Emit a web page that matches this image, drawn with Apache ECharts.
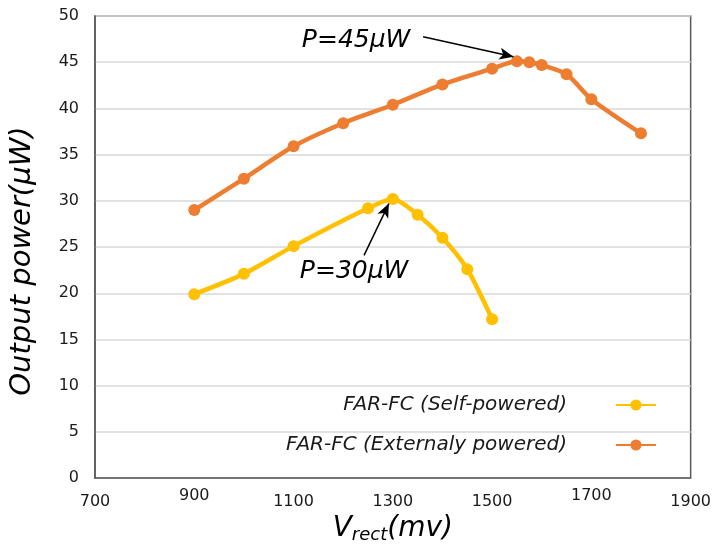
<!DOCTYPE html>
<html><head><meta charset="utf-8">
<script src="https://cdn.jsdelivr.net/npm/echarts@6/dist/echarts.min.js"></script>
<style>html,body{margin:0;padding:0;background:#fff}#c{width:714px;height:549px}</style>
</head><body><div id="c"></div>
<script>
const selfX = [900, 1000, 1100, 1250, 1300, 1350, 1400, 1450, 1500];
const selfY = [19.9, 22.1, 25.1, 29.2, 30.2, 28.5, 26.0, 22.6, 17.2];
const extX = [900, 1000, 1100, 1200, 1300, 1400, 1500, 1550, 1575, 1600, 1650, 1700, 1800];
const extY = [29.0, 32.4, 35.9, 38.4, 40.4, 42.6, 44.3, 45.1, 45.0, 44.7, 43.7, 41.0, 37.3];
const seriesNames = ['FAR-FC (Self-powered)', 'FAR-FC (Externaly powered)'];
const annotations = [
  {text: 'P=45μW', at: [1226, 47.4], from: [1361, 47.75], to: [1543, 45.6]},
  {text: 'P=30μW', at: [1222, 22.4], from: [1242, 24.1], to: [1292, 29.7]}
];
const font = 'DejaVu Sans';
const pair = (xs, ys) => xs.map((x, i) => [x, ys[i]]);

const chart = echarts.init(document.getElementById('c'));
chart.setOption({
  animation: false,
  grid: {left: 95, right: 14, top: 16, bottom: 66, show: true, borderColor: '#595959', borderWidth: 1.5},
  legend: {
    orient: 'vertical', right: 52, top: 390, align: 'right', itemGap: 20,
    itemWidth: 40, itemHeight: 14,
    textStyle: {fontFamily: font, fontStyle: 'italic', fontSize: 20, color: '#1a1a1a', padding: [0, 44, 0, 0]},
    data: seriesNames
  },
  xAxis: {
    type: 'value', min: 700, max: 1900, interval: 200,
    axisLine: {show: true, lineStyle: {color: '#595959', width: 1.5}},
    axisTick: {show: false}, splitLine: {show: false},
    axisLabel: {
      margin: 10, fontFamily: font, fontSize: 16, color: '#1a1a1a',
      formatter: v => (v === 900 || v === 1700) ? '{hi|' + v + '}' : '{lo|' + v + '}',
      rich: {hi: {fontFamily: font, fontSize: 16, color: '#1a1a1a', padding: [0, 0, 6, 0]},
             lo: {fontFamily: font, fontSize: 16, color: '#1a1a1a', padding: [6, 0, 0, 0]}}
    },
    name: '{v|V}{s|rect}{v|(mv)}', nameLocation: 'middle', nameGap: 32,
    nameTextStyle: {rich: {
      v: {fontFamily: font, fontStyle: 'italic', fontSize: 28, color: '#000'},
      s: {fontFamily: font, fontStyle: 'italic', fontSize: 18, color: '#000', verticalAlign: 'bottom', padding: [12, 0, 0, 0]}
    }}
  },
  yAxis: {
    type: 'value', min: 0, max: 50, interval: 5,
    axisLine: {show: true, lineStyle: {color: '#595959', width: 1.5}},
    axisTick: {show: false},
    splitLine: {lineStyle: {color: '#d9d9d9', width: 1.5}},
    axisLabel: {margin: 16, fontFamily: font, fontSize: 16, color: '#1a1a1a'},
    name: 'Output power(μW)', nameLocation: 'middle', nameGap: 58,
    nameTextStyle: {fontFamily: font, fontStyle: 'italic', fontSize: 29, color: '#000', padding: [0, 28, 0, 0]}
  },
  series: [
    {
      name: seriesNames[0], type: 'line', data: pair(selfX, selfY), smooth: 0.25,
      symbol: 'circle', symbolSize: 12, color: '#FFC000', lineStyle: {width: 4.5, color: '#FFC000'},
      markLine: {
        silent: true, symbol: ['none', 'arrow'], symbolSize: [9, 14],
        lineStyle: {color: '#000', width: 1.5, type: 'solid'}, label: {show: false},
        data: [[{coord: annotations[1].from}, {coord: annotations[1].to}]]
      },
      markPoint: {
        symbol: 'circle', symbolSize: 0,
        label: {show: true, position: 'inside', formatter: '{b}', fontFamily: font, fontStyle: 'italic', fontSize: 25, color: '#000'},
        data: [{name: annotations[1].text, coord: annotations[1].at}]
      }
    },
    {
      name: seriesNames[1], type: 'line', data: pair(extX, extY), smooth: 0.25,
      symbol: 'circle', symbolSize: 12, color: '#ED7D31', lineStyle: {width: 4.5, color: '#ED7D31'},
      markLine: {
        silent: true, symbol: ['none', 'arrow'], symbolSize: [9, 14],
        lineStyle: {color: '#000', width: 1.5, type: 'solid'}, label: {show: false},
        data: [[{coord: annotations[0].from}, {coord: annotations[0].to}]]
      },
      markPoint: {
        symbol: 'circle', symbolSize: 0,
        label: {show: true, position: 'inside', formatter: '{b}', fontFamily: font, fontStyle: 'italic', fontSize: 25, color: '#000'},
        data: [{name: annotations[0].text, coord: annotations[0].at}]
      }
    }
  ]
});
</script></body></html>
